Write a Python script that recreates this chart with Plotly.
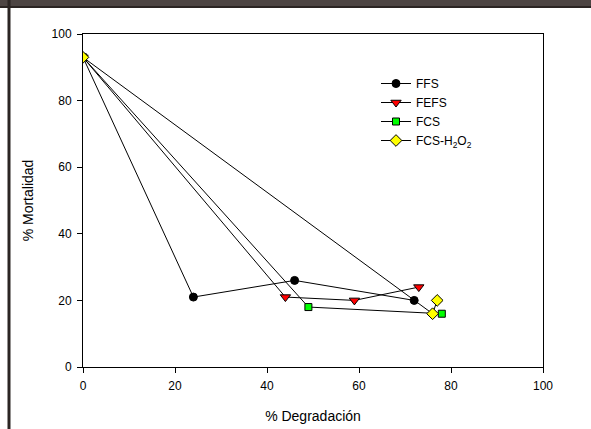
import plotly.graph_objects as go

# Data
ffs_x = [0, 24, 46, 72]
ffs_y = [93, 21, 26, 20]
fefs_x = [0, 44, 59, 73]
fefs_y = [93, 21, 20, 24]
fcs_x = [0, 49, 78]
fcs_y = [93, 18, 16]
fcsh_x = [0, 76, 77]
fcsh_y = [93, 16, 20]

names = ["FFS", "FEFS", "FCS", "FCS-H<sub>2</sub>O<sub>2</sub>"]
symbols = ["circle", "triangle-down", "square", "diamond"]
colors = ["#000000", "#ff0000", "#00ff00", "#ffff00"]
sizes = [8, 9, 7, 9]
xs = [ffs_x, fefs_x, fcs_x, fcsh_x]
ys = [ffs_y, fefs_y, fcs_y, fcsh_y]

fig = go.Figure()
for x, y, n, s, c, sz in zip(xs, ys, names, symbols, colors, sizes):
    fig.add_trace(go.Scatter(
        x=x, y=y, name=n, mode="lines+markers",
        line=dict(color="black", width=1),
        marker=dict(symbol=s, color=c, size=sz, line=dict(color="black", width=1)),
    ))

W, H = 591, 429
L, R, T, B = 83, 48, 34, 62
pw, ph = W - L - R, H - T - B

def px(xp):
    return (xp - L) / pw

def py(yp):
    return 1 + (T - yp) / ph

fig.update_layout(
    width=W, height=H,
    margin=dict(l=L, r=R, t=T, b=B, autoexpand=False),
    paper_bgcolor="white", plot_bgcolor="white",
    font=dict(family="Liberation Sans, Arial, sans-serif", size=12, color="black"),
    showlegend=True,
    legend=dict(x=px(376), y=py(69), xanchor="left", yanchor="top",
                bgcolor="rgba(0,0,0,0)", font=dict(size=12), itemwidth=30,
                tracegroupgap=0),
    shapes=[
        dict(type="rect", xref="paper", yref="paper", x0=px(0), x1=px(W), y0=py(0), y1=py(7),
             fillcolor="#4d4543", line=dict(width=0), layer="above"),
        dict(type="line", xref="paper", yref="paper", x0=px(0), x1=px(W), y0=py(7), y1=py(7),
             line=dict(color="#2b2523", width=2), layer="above"),
        dict(type="line", xref="paper", yref="paper", x0=px(9), x1=px(9), y0=py(0), y1=py(H),
             line=dict(color="#2b2523", width=3), layer="above"),
    ],
)
fig.update_xaxes(
    range=[0, 100], tickvals=[0, 20, 40, 60, 80, 100], ticks="outside", ticklen=5,
    tickcolor="black", showline=True, linecolor="black", linewidth=1, mirror=True,
    showgrid=False, zeroline=False, automargin=False, ticklabelstandoff=3,
    title=dict(text="% Degradación", standoff=18),
    tickfont=dict(size=12),
)
fig.update_yaxes(
    range=[0, 100], tickvals=[0, 20, 40, 60, 80, 100], ticks="outside", ticklen=5,
    tickcolor="black", showline=True, linecolor="black", linewidth=1, mirror=True,
    showgrid=False, zeroline=False, automargin=False, ticklabelstandoff=3,
    title=dict(text="% Mortalidad", standoff=14),
    tickfont=dict(size=12),
)

fig.write_html(
    "out.html",
    config={"displayModeBar": False},
    post_script="document.body.style.margin='0';document.body.style.overflow='hidden';",
)
